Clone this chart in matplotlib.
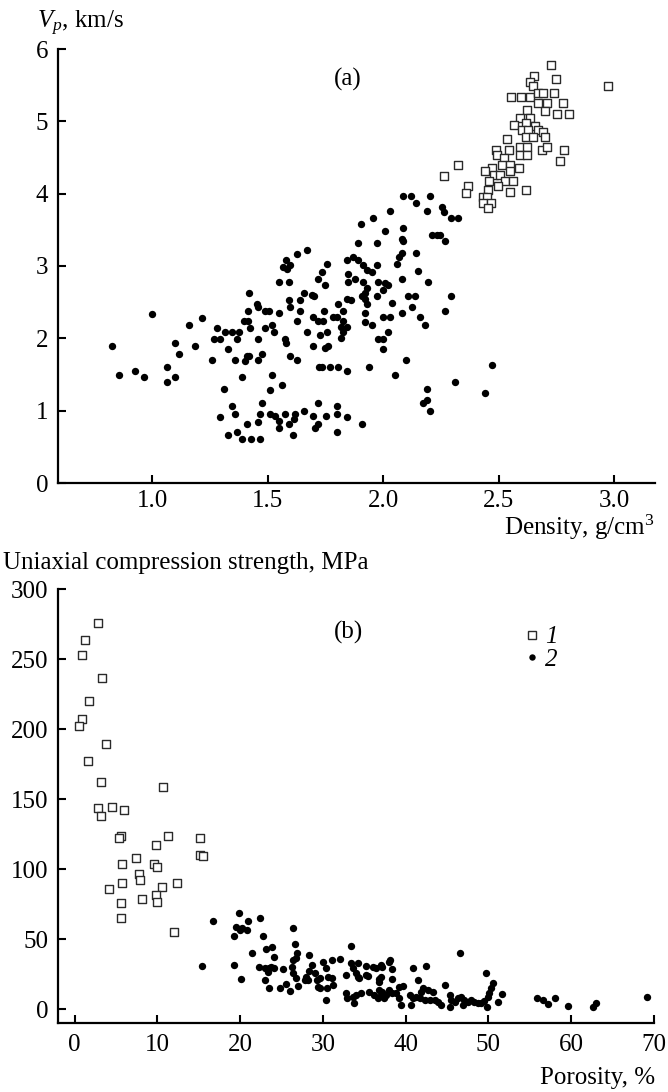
import matplotlib
matplotlib.use("Agg")
import matplotlib.pyplot as plt
from matplotlib.lines import Line2D

plt.rcParams['font.family'] = ['Liberation Serif', 'DejaVu Serif']
plt.rcParams['mathtext.fontset'] = 'custom'
plt.rcParams['mathtext.rm'] = 'Liberation Serif'
plt.rcParams['mathtext.it'] = 'Liberation Serif:italic'

# ---------------- Panel (a): Vp vs density ----------------
dens_rock = [2.727, 2.973, 2.655, 2.748, 2.636, 2.648, 2.554, 2.596, 2.636, 2.672, 2.693, 2.74,
             2.672, 2.709, 2.778, 2.699, 2.754, 2.806, 2.625, 2.593, 2.636, 2.568, 2.62, 2.658,
             2.60, 2.629, 2.672, 2.693, 2.699, 2.619, 2.648, 2.538, 2.593, 2.625, 2.593, 2.625,
             2.69, 2.709, 2.785, 2.766, 2.489, 2.547, 2.495, 2.524, 2.515, 2.55, 2.587, 2.47,
             2.443, 2.478, 2.506, 2.55, 2.326, 2.264, 2.366, 2.357, 2.459, 2.528, 2.564, 2.456,
             2.497, 2.55, 2.619, 2.434, 2.452, 2.434, 2.467, 2.456]
vp_rock = [5.78, 5.49, 5.63, 5.58, 5.54, 5.49, 5.33, 5.33, 5.33, 5.39, 5.39, 5.39,
           5.25, 5.25, 5.25, 5.14, 5.10, 5.10, 5.15, 5.04, 5.04, 4.95, 4.98, 4.93,
           4.88, 4.88, 4.88, 4.85, 4.79, 4.79, 4.79, 4.75, 4.65, 4.65, 4.54, 4.54,
           4.61, 4.65, 4.61, 4.45, 4.61, 4.61, 4.54, 4.49, 4.40, 4.40, 4.35, 4.35,
           4.31, 4.26, 4.26, 4.31, 4.40, 4.25, 4.11, 4.01, 4.17, 4.17, 4.17, 4.05,
           4.11, 4.02, 4.05, 3.96, 3.96, 3.87, 3.87, 3.80]

dens_soil = [0.827, 0.856, 0.926, 0.965, 1.0, 1.066, 1.064, 1.098, 1.098, 1.117, 1.159, 1.188,
             1.216, 1.26, 1.267, 1.294, 1.281, 1.31, 1.296, 1.317, 1.33, 1.348, 1.366, 1.375,
             1.36, 1.348, 1.36, 1.33, 1.368, 1.39, 1.427, 1.469, 1.39, 1.397, 1.417, 1.417,
             1.419, 1.41, 1.403, 1.42, 1.41, 1.424, 1.455, 1.46, 1.46, 1.46, 1.476, 1.459,
             1.475, 1.468, 1.49, 1.489, 1.508, 1.518, 1.51, 1.518, 1.528, 1.548, 1.548, 1.561,
             1.51, 1.532, 1.551, 1.548, 1.576, 1.592, 1.612, 1.619, 1.616, 1.577, 1.578, 1.568,
             1.58, 1.597, 1.585, 1.592, 1.592, 1.597, 1.599, 1.628, 1.641, 1.641, 1.626, 1.629,
             1.671, 1.659, 1.691, 1.702, 1.67, 1.698, 1.659, 1.698, 1.704, 1.72, 1.72, 1.698,
             1.72, 1.72, 1.735, 1.75, 1.756, 1.727, 1.741, 1.745, 1.749, 1.763, 1.756, 1.723,
             1.736, 1.771, 1.752, 1.807, 1.80, 1.80, 1.802,
             1.843, 1.85, 1.85, 1.843, 1.828, 1.828, 1.82, 1.843, 1.828, 1.82, 1.843, 1.843,
             1.893, 1.974, 2.085, 2.27, 2.069, 2.081, 2.059, 2.141, 2.153, 2.081, 1.87, 1.893,
             1.915, 1.93, 1.95, 1.973, 1.879, 1.915, 1.93, 1.922, 1.979, 2.009, 2.023, 2.0,
             1.908, 1.922, 1.93, 1.973, 1.86, 2.04, 2.11, 2.14, 2.124, 2.196, 2.293, 2.27,
             2.081, 2.16, 2.182, 1.785, 1.80, 1.922, 1.922, 1.95, 2.0, 2.03, 2.023, 1.98,
             2.0, 2.0, 1.807, 1.94, 2.10, 2.053, 2.472, 2.313, 2.442, 2.192, 2.174, 2.189,
             2.203, 1.91,
             2.088, 2.121, 2.143, 2.203, 2.03, 2.19, 2.253, 2.264, 2.294, 2.323, 1.958, 1.903,
             2.009, 2.088, 2.083, 2.213, 2.232, 2.247]
vp_soil = [1.89, 1.49, 1.55, 1.46, 2.34, 1.60, 1.40, 1.46, 1.94, 1.78, 2.19, 1.89,
           2.28, 1.70, 1.99, 1.99, 2.14, 1.30, 0.91, 2.09, 1.85, 2.09, 1.99, 2.09,
           1.70, 1.06, 0.96, 0.66, 0.70, 0.61, 0.61, 0.61, 1.46, 2.24, 2.24, 2.38,
           2.63, 1.75, 1.69, 1.76, 0.82, 2.14, 2.48, 2.43, 1.99, 1.70, 1.78, 0.85,
           1.10, 0.96, 2.38, 2.14, 2.38, 1.49, 1.29, 2.19, 2.09, 2.35, 2.78, 1.35,
           0.96, 0.92, 0.86, 0.76, 0.96, 0.82, 0.66, 0.96, 0.89, 1.99, 1.94, 2.98,
           3.08, 3.01, 2.96, 2.78, 2.53, 2.44, 1.76, 3.17, 2.53, 2.38, 2.24, 1.70,
           3.22, 2.63, 2.60, 2.58, 2.09, 1.89, 1.00, 0.92, 0.76, 0.82, 1.11, 2.29,
           2.24, 2.82, 2.92, 2.74, 3.03, 2.04, 2.24, 2.38, 1.86, 1.89, 2.09, 1.60,
           1.60, 1.60, 0.92, 2.48, 1.06, 0.96, 0.71,
           3.08, 2.89, 2.78, 2.55, 2.38, 2.24, 2.16, 2.16, 2.09, 2.00, 1.55, 0.91,
           3.32, 3.32, 3.35, 3.35, 3.13, 3.18, 3.03, 3.18, 2.93, 2.82, 3.12, 3.08,
           3.02, 2.95, 2.92, 3.02, 2.82, 2.78, 2.69, 2.62, 2.78, 2.76, 2.74, 2.67,
           2.59, 2.55, 2.48, 2.58, 2.53, 2.49, 2.59, 2.59, 2.44, 2.78, 2.59, 2.38,
           2.35, 2.29, 2.19, 2.30, 2.30, 2.35, 2.23, 2.19, 2.29, 2.29, 2.09, 1.99,
           1.99, 1.85, 1.61, 1.61, 1.70, 1.50, 1.63, 1.39, 1.25, 1.30, 1.10, 1.15,
           1.00, 0.82,
           3.97, 3.97, 3.87, 3.97, 3.76, 3.76, 3.82, 3.75, 3.67, 3.67, 3.67, 3.58,
           3.48, 3.52, 3.37, 3.43, 3.43, 3.43]

# ---------------- Panel (b): UCS vs porosity ----------------
por_rock = [2.82, 1.29, 0.89, 3.34, 1.69, 0.89, 0.52, 3.82, 1.61, 3.14, 10.67, 2.82,
            4.55, 5.96, 3.14, 5.56, 5.31, 11.27, 15.18, 9.78, 15.18, 15.5, 5.76, 7.37,
            9.58, 9.94, 7.73, 7.85, 5.71, 4.14, 10.51, 12.36, 9.86, 9.99, 8.13, 5.56,
            5.56, 11.99]
ucs_rock = [275.5, 263.6, 252.9, 236.2, 220.2, 207.1, 202.4, 189.3, 177.4, 161.9, 158.4, 143.3,
            144.5, 142.1, 137.9, 123.8, 121.9, 123.8, 121.9, 117.1, 110.0, 109.3, 103.4, 108.1,
            103.4, 101.2, 96.2, 92.1, 90.2, 85.7, 87.4, 89.8, 81.2, 76.4, 78.3, 75.5,
            65.2, 55.2]

por_soil = [16.75, 15.42, 19.81, 19.52, 19.93, 20.25, 19.24, 20.93, 20.86, 22.46, 22.74, 19.32,
            20.05, 21.46, 23.15, 23.87, 24.07, 26.37, 26.61, 26.85, 28.38, 26.37, 26.77, 22.26,
            22.95, 23.47, 24.15, 23.35, 23.75, 25.24, 22.98, 23.43, 24.76, 25.57, 25.97, 26.3,
            26.37, 26.77, 26.97, 27.78, 27.98, 28.18, 28.38, 28.7, 28.99, 29.27, 29.39, 29.6,
            29.6, 30.0, 30.4, 30.6, 30.5, 31.1, 31.2, 31.1, 32.1, 30.4, 32.8, 33.4,
            33.4, 33.6, 34.0, 34.2, 32.8, 32.9, 33.6, 33.7, 34.0, 34.6, 34.4, 34.2,
            35.2, 35.2, 35.4, 36.1, 36.4, 36.96, 36.8, 36.8, 37.0, 37.2, 38.0, 38.4,
            38.4, 35.6, 36.2, 36.8, 37.2, 37.6, 38.0, 36.6, 37.4, 38.4, 37.0, 38.8,
            39.25, 39.45, 39.65, 39.25, 38.1,
            40.9, 42.5, 41.5, 42.1, 42.7, 41.9, 43.3, 40.5, 40.9, 41.3, 41.7, 42.3,
            42.9, 43.5, 43.9, 44.3, 40.7, 44.8, 45.3, 45.5, 45.3, 45.9, 46.3, 46.7,
            47.1, 46.9, 47.5, 47.9, 48.3, 48.7, 49.1, 49.5, 49.9, 49.8, 50.1, 50.3,
            50.5, 49.7, 46.6, 51.1, 51.65, 55.9, 56.6, 57.2, 58.1, 59.6, 62.6, 63.0,
            69.2]
ucs_soil = [62.6, 30.7, 68.4, 58.8, 56.4, 57.6, 52.1, 63.1, 56.4, 64.8, 52.1, 31.4,
            21.4, 39.8, 42.6, 44.5, 36.9, 57.6, 46.4, 40.2, 38.4, 35.0, 36.2, 30.2,
            29.1, 29.1, 29.1, 26.6, 30.2, 28.4, 20.7, 14.8, 14.8, 17.9, 12.9, 30.2,
            25.5, 21.9, 16.4, 20.7, 23.1, 20.7, 27.4, 31.4, 25.5, 20.7, 15.9, 21.9,
            14.8, 33.8, 29.1, 23.1, 14.8, 21.9, 17.1, 35.0, 35.5, 6.4, 24.3, 45.2,
            32.6, 29.1, 25.5, 23.1, 11.2, 7.6, 8.8, 4.1, 10.0, 11.2, 21.9, 33.1,
            30.7, 24.3, 23.6, 29.8, 29.1, 23.1, 21.2, 19.5, 31.4, 29.8, 33.8, 28.4,
            21.6, 12.4, 10.0, 13.6, 12.4, 10.0, 13.6, 7.6, 7.6, 11.2, 10.0, 11.2,
            7.6, 2.9, 16.4, 16.0, 35.0,
            29.1, 30.7, 20.7, 14.8, 13.6, 12.4, 12.4, 10.0, 7.6, 8.8, 7.6, 6.4,
            6.4, 6.4, 5.2, 2.9, 2.9, 17.1, 10.0, 6.4, 1.6, 5.2, 7.6, 8.8,
            6.4, 2.9, 5.2, 6.4, 5.2, 4.1, 4.5, 5.9, 8.8, 1.6, 11.2, 14.8,
            18.3, 25.5, 40.2, 5.2, 10.7, 7.6, 6.4, 3.6, 7.6, 2.1, 1.6, 4.1,
            8.8]

xticks_a = [1.0, 1.5, 2.0, 2.5, 3.0]
yticks_a = [0, 1, 2, 3, 4, 5, 6]
xticks_b = [0, 10, 20, 30, 40, 50, 60, 70]
yticks_b = [0, 50, 100, 150, 200, 250, 300]
legend_labels = ['1', '2']

FS = 18
W, H = 668, 1092
fig = plt.figure(figsize=(W / 100, H / 100), dpi=100)

def px_axes(l, t, r, b):
    return fig.add_axes([l / W, 1 - b / H, (r - l) / W, (b - t) / H])

sq_kw = dict(marker='s', s=30, facecolors='white', edgecolors='#2a2a2a', linewidths=1.0, zorder=3)
dot_kw = dict(marker='o', s=28, color='black', linewidths=0, zorder=4)

def style(ax, xpad):
    for side in ('top', 'right'):
        ax.spines[side].set_visible(False)
    for side in ('left', 'bottom'):
        ax.spines[side].set_linewidth(1.6)
    ax.tick_params(direction='in', length=6, width=1.5, labelsize=FS, pad=7)
    ax.tick_params(axis='x', pad=xpad)

# Panel (a)
ax1 = px_axes(58, 49, 655, 483)
ax1.scatter(dens_rock, vp_rock, **sq_kw)
ax1.scatter(dens_soil, vp_soil, **dot_kw)
ax1.set_xlim(0.593, 3.177)
ax1.set_ylim(0, 6)
ax1.set_xticks(xticks_a)
ax1.set_xticklabels([f"{v:.1f}" for v in xticks_a])
ax1.set_yticks(yticks_a)
style(ax1, 5)
ax1.text(0.486, 0.929, '(a)', transform=ax1.transAxes, ha='center', va='center', fontsize=FS)
fig.text(37 / W, 1 - 28 / H, '$V_p$, km/s', ha='left', va='baseline', fontsize=FS)
fig.text(655 / W, 1 - 535 / H, 'Density, g/cm$^3$', ha='right', va='baseline', fontsize=FS)

# Panel (b)
ax2 = px_axes(58, 589, 654, 1023)
ax2.scatter(por_rock, ucs_rock, **sq_kw)
ax2.scatter(por_soil, ucs_soil, **dot_kw)
ax2.set_xlim(-2, 70)
ax2.set_ylim(-10, 300)
ax2.set_xticks(xticks_b)
ax2.set_yticks(yticks_b)
style(ax2, 8)
ax2.text(0.488, 0.899, '(b)', transform=ax2.transAxes, ha='center', va='center', fontsize=FS)
fig.text(3 / W, 1 - 569 / H, 'Uniaxial compression strength, MPa', ha='left', va='baseline', fontsize=FS)
fig.text(655 / W, 1 - 1084 / H, 'Porosity, %', ha='right', va='baseline', fontsize=FS)

handles = [Line2D([], [], linestyle='none', marker='s', markersize=5.5, markerfacecolor='white',
                  markeredgecolor='#2a2a2a', markeredgewidth=1.0),
           Line2D([], [], linestyle='none', marker='o', markersize=4.6, markerfacecolor='black',
                  markeredgewidth=0)]
ax2.legend(handles, legend_labels, loc='upper left', bbox_to_anchor=(0.785, 0.915), frameon=False,
           prop={'family': 'Liberation Serif', 'style': 'italic', 'size': FS},
           handlelength=0.5, handletextpad=0.25, labelspacing=0.0, borderpad=0, borderaxespad=0)

fig.savefig('out.png', dpi=100)
